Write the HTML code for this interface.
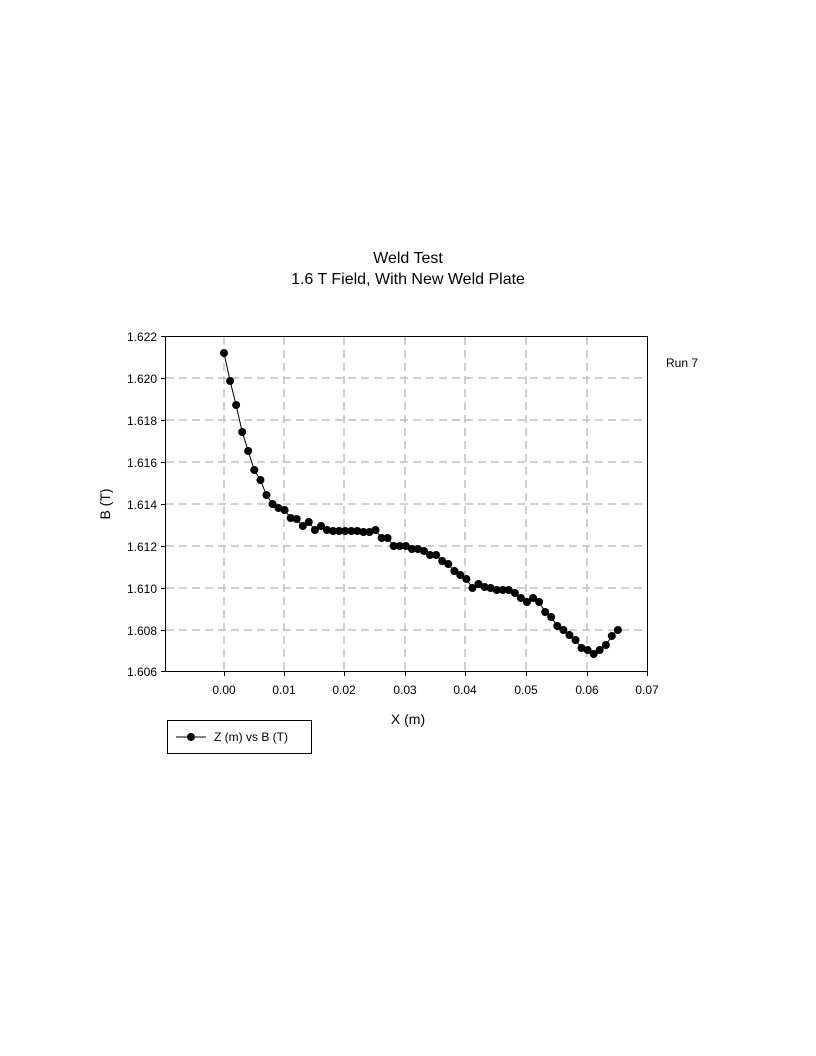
<!DOCTYPE html>
<html><head><meta charset="utf-8"><style>
body{margin:0;background:#fff;}
svg{display:block;font-family:"Liberation Sans",Arial,sans-serif;}
</style></head><body>
<svg width="816" height="1056" viewBox="0 0 816 1056">
<defs>
<marker id="dot" markerUnits="userSpaceOnUse" markerWidth="10" markerHeight="10" refX="5" refY="5" overflow="visible">
<circle cx="5" cy="5" r="4" fill="#000"/>
</marker>
</defs>
<rect width="816" height="1056" fill="#fff"/>
<text x="408" y="263" font-size="16" text-anchor="middle">Weld Test</text>
<text x="408" y="284" font-size="16" text-anchor="middle">1.6 T Field, With New Weld Plate</text>
<g stroke="#c0c0c0" stroke-width="1.5" stroke-dasharray="8,5">
<line x1="224" y1="337" x2="224" y2="671"/><line x1="284" y1="337" x2="284" y2="671"/>
<line x1="344" y1="337" x2="344" y2="671"/><line x1="405" y1="337" x2="405" y2="671"/>
<line x1="465" y1="337" x2="465" y2="671"/><line x1="526" y1="337" x2="526" y2="671"/>
<line x1="587" y1="337" x2="587" y2="671"/>
<line x1="166" y1="378" x2="647" y2="378"/><line x1="166" y1="420" x2="647" y2="420"/>
<line x1="166" y1="462" x2="647" y2="462"/><line x1="166" y1="504" x2="647" y2="504"/>
<line x1="166" y1="546" x2="647" y2="546"/><line x1="166" y1="588" x2="647" y2="588"/>
<line x1="166" y1="630" x2="647" y2="630"/>
</g>
<rect x="165.5" y="336.5" width="482" height="335" fill="none" stroke="#000"/>
<g stroke="#000">
<line x1="161" y1="336.5" x2="165" y2="336.5"/><line x1="161" y1="378.5" x2="165" y2="378.5"/>
<line x1="161" y1="420.5" x2="165" y2="420.5"/><line x1="161" y1="462.5" x2="165" y2="462.5"/>
<line x1="161" y1="504.5" x2="165" y2="504.5"/><line x1="161" y1="546.5" x2="165" y2="546.5"/>
<line x1="161" y1="588.5" x2="165" y2="588.5"/><line x1="161" y1="630.5" x2="165" y2="630.5"/>
<line x1="161" y1="671.5" x2="165" y2="671.5"/>
<line x1="224.5" y1="672" x2="224.5" y2="676"/><line x1="284.5" y1="672" x2="284.5" y2="676"/>
<line x1="344.5" y1="672" x2="344.5" y2="676"/><line x1="405.5" y1="672" x2="405.5" y2="676"/>
<line x1="465.5" y1="672" x2="465.5" y2="676"/><line x1="526.5" y1="672" x2="526.5" y2="676"/>
<line x1="587.5" y1="672" x2="587.5" y2="676"/><line x1="647.5" y1="672" x2="647.5" y2="676"/>
</g>
<g font-size="12" text-anchor="end">
<text x="157" y="341">1.622</text><text x="157" y="383">1.620</text><text x="157" y="425">1.618</text>
<text x="157" y="467">1.616</text><text x="157" y="509">1.614</text><text x="157" y="551">1.612</text>
<text x="157" y="593">1.610</text><text x="157" y="635">1.608</text><text x="157" y="676">1.606</text>
</g>
<g font-size="12" text-anchor="middle">
<text x="224" y="694">0.00</text><text x="284" y="694">0.01</text><text x="344" y="694">0.02</text>
<text x="405" y="694">0.03</text><text x="465" y="694">0.04</text><text x="526" y="694">0.05</text>
<text x="587" y="694">0.06</text><text x="647" y="694">0.07</text>
</g>
<text x="408" y="724" font-size="14" text-anchor="middle">X (m)</text>
<text transform="translate(110,504) rotate(-90)" font-size="14" text-anchor="middle">B (T)</text>
<text x="666" y="367" font-size="12">Run 7</text>
<polyline fill="none" stroke="#000" stroke-width="1" marker-start="url(#dot)" marker-mid="url(#dot)" marker-end="url(#dot)" points="224,353 230.1,381 236.1,405 242.2,432 248.2,451 254.3,470 260.4,480 266.4,495 272.5,504 278.5,508 284.6,510 290.7,518 296.7,519 302.8,526 308.8,522 314.9,530 321,526 327,530 333.1,531 339.1,531 345.2,531 351.3,531 357.3,531 363.4,532 369.4,532 375.5,530 381.6,538 387.6,538 393.7,546 399.7,546 405.8,546 411.9,549 417.9,549 424,551 430,555 436.1,555 442.2,561 448.2,564 454.3,571 460.3,575 466.4,579 472.5,588 478.5,584 484.6,587 490.6,588 496.7,590 502.8,590 508.8,590 514.9,593 520.9,598 527,602 533.1,598 539.1,602 545.2,612 551.2,617 557.3,626 563.4,630 569.4,635 575.5,640 581.5,648 587.6,650 593.7,654 599.7,650 605.8,645 611.8,636 617.9,630"/>
<rect x="167.5" y="720.5" width="144" height="33" fill="#fff" stroke="#000"/>
<line x1="176" y1="737" x2="206" y2="737" stroke="#000"/>
<circle cx="191" cy="737" r="4" fill="#000"/>
<text x="214" y="741" font-size="12">Z (m) vs B (T)</text>
</svg>
</body></html>
